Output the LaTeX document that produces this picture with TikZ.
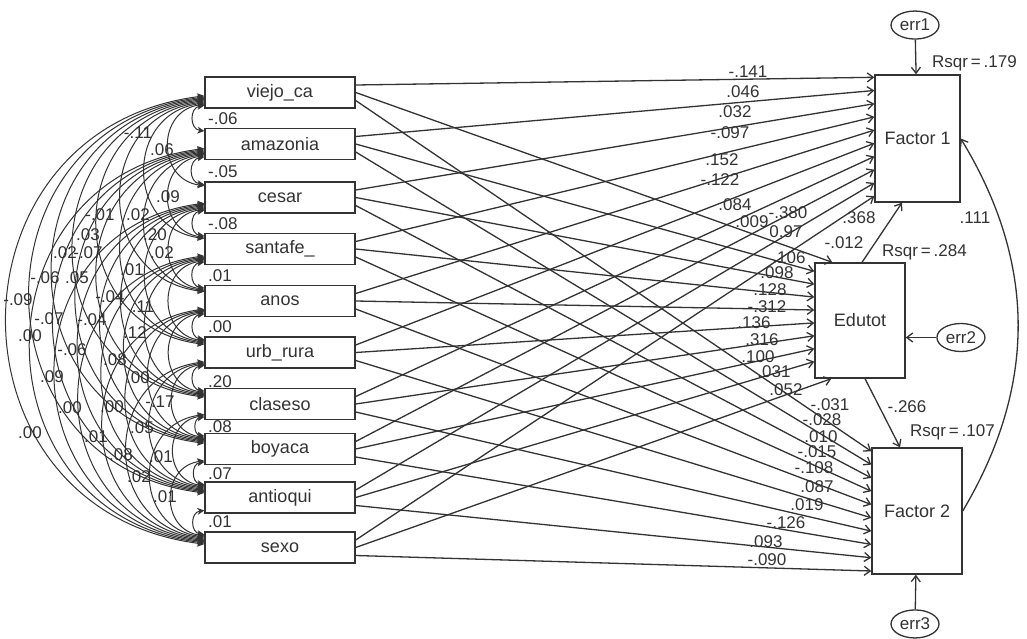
\documentclass[tikz,border=0pt]{standalone}
\usepackage{fontspec}
\setmainfont{Liberation Sans}
\usetikzlibrary{arrows.meta,positioning,shapes.geometric}
\definecolor{ink}{HTML}{333333}

\begin{document}
\begin{tikzpicture}[
  x=1pt, y=-1pt,
  var/.style={rectangle, draw=ink, line width=1.4pt, minimum width=150pt, minimum height=31pt,
              inner sep=0pt, font=\fontsize{18}{20}\selectfont, text=ink},
  endo/.style={rectangle, draw=ink, line width=1.4pt, inner sep=0pt,
              font=\fontsize{18}{20}\selectfont, text=ink},
  err/.style={ellipse, draw=ink, line width=1.3pt, minimum width=48pt, minimum height=28pt,
              inner sep=0pt, font=\fontsize{17}{19}\selectfont, text=ink},
  num/.style={inner sep=0pt, font=\fontsize{17}{19}\selectfont, text=ink},
  cov/.style={{Stealth[length=7pt,width=7pt]}-{Stealth[length=7pt,width=7pt]}, draw=ink, line width=1pt},
  arr/.style={-{Straight Barb[length=6pt,width=9pt]}, draw=ink, line width=1.3pt}
]
\fill[white] (0,0) rectangle (1027,639);
\useasboundingbox (0,0) rectangle (1027,639);

\node[var] (v1) at (280,92.5) {viejo\_ca};
\node[var, below=19.1pt of v1] (v2) {amazonia};
\node[var, below=21.1pt of v2] (v3) {cesar};
\node[var, below=19.1pt of v3] (v4) {santafe\_};
\node[var, below=19.6pt of v4] (v5) {anos};
\node[var, below=19.1pt of v5] (v6) {urb\_rura};
\node[var, below=19.1pt of v6] (v7) {claseso};
\node[var, below=12.6pt of v7] (v8) {boyaca};
\node[var, below=16.1pt of v8] (v9) {antioqui};
\node[var, below=17.6pt of v9] (v10) {sexo};

\node[endo, minimum width=85pt, minimum height=127pt] (f1) at (917.5,138.5) {Factor 1};
\node[endo, minimum width=90pt, minimum height=115pt] (edu) at (860,320.5) {Edutot};
\node[endo, minimum width=90pt, minimum height=126pt] (f2) at (917,511) {Factor 2};
\node[err, above=34.6pt of f1, xshift=-2.5pt] (e1) {err1};
\node[err, right=30.6pt of edu, yshift=-17pt] (e2) {err2};
\node[err, below=34.6pt of f2, xshift=-2pt] (e3) {err3};

\foreach \i in {1,...,9}{
  \pgfmathtruncatemacro{\s}{\i+1}
  \foreach \j in {\s,...,10}{
    \pgfmathsetmacro{\a}{13-1.2*(\j-\i-1)}
    \draw[cov] ([yshift=-\a pt]v\i.west) to[bend right=83, looseness=1.52] ([yshift=\a pt]v\j.west);
  }
}

\foreach \i in {1,...,10}{
  \pgfmathsetmacro{\ya}{3+13.2*(\i-1)}
  \pgfmathsetmacro{\yc}{4+13.3*(\i-1)}
  \draw[arr] ([yshift=7.5pt]v\i.east) -- ([yshift=-\ya pt]f1.north west);
  \draw[arr] ([yshift=-8pt]v\i.east) -- ([yshift=-\yc pt]f2.north west);
}
\draw[arr] (v1.east) -- ([xshift=18pt]edu.north west);
\foreach \i in {2,...,9}{
  \pgfmathsetmacro{\yb}{9+12.9*(\i-2)}
  \draw[arr] (v\i.east) -- ([yshift=-\yb pt]edu.north west);
}
\draw[arr] (v10.east) -- ([xshift=17pt]edu.south west);

\draw[arr] (e1) -- (f1);
\draw[arr] (e2.west) -- (e2.west -| edu.east);
\draw[arr] (e3) -- (f2);
\draw[arr] ([xshift=2pt]edu.north) -- ([xshift=-15.5pt]f1.south);
\draw[arr] ([xshift=5pt]edu.south) -- ([xshift=-17pt]f2.north);
\draw[arr] (f2.east) to[bend right=31] (f1.east);

\node[num] (w1) at (859,218) {.368};
\node[num] (w2) at (907,407) {-.266};
\node[num] (w3) at (975,218) {.111};
\node[num, anchor=west] (r1) at (932,63) {Rsqr\,=\,.179};
\node[num, anchor=west] (r2) at (882,252) {Rsqr\,=\,.284};
\node[num, anchor=west] (r3) at (910,432) {Rsqr\,=\,.107};

\foreach \lab/\x/\y [count=\k] in {-.141/748/72, .046/743/92, .032/735/112, -.097/730/133,
    .152/722/160, -.122/720/180, .084/735/205, .009/752/222, -.380/788/213, 0.97/786/232}
  \node[num] (p\k) at (\x,\y) {\lab};
\foreach \lab/\x/\y [count=\k] in {-.012/844/243, .106/789/258, .098/777/273, .128/770/290,
    -.312/767/307, .136/754/323, .316/762/340, .100/758/357, .031/774/372, .052/786/390}
  \node[num] (q\k) at (\x,\y) {\lab};
\foreach \lab/\x/\y [count=\k] in {-.031/830/405, -.028/822/420, .010/821/437, -.015/817/452,
    -.108/814/468, .087/817/487, .019/807/505, -.126/786/523, .093/766/542, -.090/767/560}
  \node[num] (s\k) at (\x,\y) {\lab};

\foreach \lab/\y [count=\k] in {-.06/119, -.05/172, -.08/224, .01/276, .00/327,
    .20/382, .08/427, .07/474, .01/522}
  \node[num, anchor=west] (a\k) at (208,\y) {\lab};
\foreach \lab/\x/\y [count=\k] in {-.11/138/133, .06/162/150, .09/168/197, -.01/100/215,
    .02/138/215, .03/88/235, .20/155/235, .02/65/253, -.07/88/253, .02/162/253,
    -.06/45/278, .05/77/278, .01/132/270, -.09/18/300, -.04/110/297, .11/143/307,
    -.07/49/319, -.04/92/320, .12/135/333, .00/30/336, -.06/72/350, .08/115/360,
    .09/52/377, .00/138/378, .00/70/408, .00/112/407, -.17/160/402, .00/30/433,
    .01/96/437, .05/142/428, .08/121/455, .01/161/457, .02/139/477, .01/165/497}
  \node[num] (c\k) at (\x,\y) {\lab};
\end{tikzpicture}
\end{document}
